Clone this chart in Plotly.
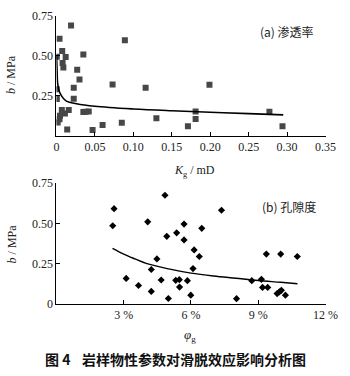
import plotly.graph_objects as go

W, H = 350, 376

# (a) permeability data
perm_k = [0.019, 0.004, 0.089, 0.0075, 0.0005, 0.012, 0.035, 0.008, 0.009, 0.027,
          0.030, 0.073, 0.0225, 0.0005, 0.116, 0.199, 0.0225, 0.0005, 0.007, 0.016,
          0.011, 0.0046, 0.004, 0.0016, 0.035, 0.038, 0.042, 0.014, 0.047, 0.060,
          0.085, 0.130, 0.181, 0.181, 0.171, 0.277, 0.294]
perm_b = [0.689, 0.606, 0.596, 0.529, 0.493, 0.491, 0.507, 0.454, 0.426, 0.412,
          0.351, 0.319, 0.299, 0.290, 0.299, 0.317, 0.230, 0.228, 0.159, 0.159,
          0.138, 0.123, 0.102, 0.082, 0.147, 0.149, 0.151, 0.038, 0.035, 0.066,
          0.080, 0.108, 0.151, 0.104, 0.058, 0.149, 0.058]
perm_fit_k = [0.0002, 0.0008, 0.0016, 0.0034, 0.007, 0.013, 0.026, 0.05, 0.1, 0.15, 0.2, 0.25, 0.295]
perm_fit_b = [0.50, 0.41, 0.325, 0.28, 0.245, 0.215, 0.199, 0.183, 0.166, 0.155, 0.146, 0.137, 0.129]
perm_ticks = [0, 0.05, 0.10, 0.15, 0.20, 0.25, 0.30, 0.35]
perm_ticktext = ["0", "0.05", "0.10", "0.15", "0.20", "0.25", "0.30", "0.35"]

# (b) porosity data (%)
poro_phi = [2.57, 2.51, 4.07, 4.84, 4.92, 4.48, 4.23, 3.11, 3.66, 4.67,
            4.23, 4.99, 7.36, 5.69, 6.48, 5.36, 5.69, 6.14, 6.37, 6.09,
            5.32, 5.48, 5.84, 5.49, 5.99, 8.03, 9.36, 10.0, 10.74, 8.71,
            9.14, 9.19, 9.42, 9.84, 9.94, 10.03, 10.21]
poro_b = [0.592, 0.486, 0.510, 0.675, 0.420, 0.280, 0.214, 0.159, 0.115, 0.149,
          0.078, 0.034, 0.582, 0.496, 0.470, 0.442, 0.398, 0.336, 0.295, 0.220,
          0.147, 0.151, 0.145, 0.105, 0.055, 0.033, 0.310, 0.310, 0.295, 0.145,
          0.153, 0.103, 0.103, 0.065, 0.075, 0.085, 0.055]
poro_fit_phi = [2.5, 3.0, 3.5, 4.0, 5.0, 6.0, 7.0, 8.0, 9.0, 10.0, 10.75]
poro_fit_b = [0.346, 0.31, 0.28, 0.252, 0.218, 0.192, 0.174, 0.160, 0.146, 0.135, 0.126]
poro_ticks = [3, 6, 9, 12]
poro_ticktext = ["3 %", "6 %", "9 %", "12 %"]

b_ticks_top = [0.25, 0.50, 0.75]
b_ticks_bottom = [0, 0.25, 0.50, 0.75]

def py(p):
    return 1 - p / H

fig = go.Figure()
fig.add_trace(go.Scatter(x=perm_k, y=perm_b, mode="markers",
                         marker=dict(symbol="square", size=6, color="#474747"),
                         xaxis="x", yaxis="y", showlegend=False))
fig.add_trace(go.Scatter(x=perm_fit_k, y=perm_fit_b, mode="lines",
                         line=dict(color="black", width=1.6, shape="spline"),
                         xaxis="x", yaxis="y", showlegend=False))
fig.add_trace(go.Scatter(x=poro_phi, y=poro_b, mode="markers",
                         marker=dict(symbol="diamond", size=5.5, color="black"),
                         xaxis="x2", yaxis="y2", showlegend=False))
fig.add_trace(go.Scatter(x=poro_fit_phi, y=poro_fit_b, mode="lines",
                         line=dict(color="black", width=1.4, shape="spline"),
                         xaxis="x2", yaxis="y2", showlegend=False))

tickfont = dict(family="Liberation Serif", size=12, color="#222")
xdom = [56 / W, 338 / W]
axis_common = dict(showgrid=False, zeroline=False, showline=True, linecolor="black",
                   linewidth=1, ticks="inside", ticklen=4, tickcolor="black",
                   tickfont=tickfont)

fig.update_layout(
    width=W, height=H, margin=dict(l=0, r=0, t=0, b=0),
    paper_bgcolor="white", plot_bgcolor="white",
    xaxis=dict(domain=xdom, range=[0, 0.35], tickvals=perm_ticks, ticktext=perm_ticktext,
               anchor="y", **axis_common),
    yaxis=dict(domain=[py(133.5), py(9)], range=[0, 0.75], tickvals=b_ticks_top,
               ticktext=["0.25", "0.50", "0.75"], anchor="x", **axis_common),
    xaxis2=dict(domain=xdom, range=[0, 12], tickvals=poro_ticks, ticktext=poro_ticktext,
                anchor="y2", **axis_common),
    yaxis2=dict(domain=[py(308.5), py(183)], range=[0, 0.75], tickvals=b_ticks_bottom,
                ticktext=["0", "0.25", "0.50", "0.75"], anchor="x2", **axis_common),
)

ann = []
lab = dict(family="Liberation Serif", size=12, color="#222")
ann.append(dict(x=9 / W, y=py(70), text="<i>b</i> / MPa", textangle=-90, font=lab))
ann.append(dict(x=9 / W, y=py(246), text="<i>b</i> / MPa", textangle=-90, font=lab))
ann.append(dict(x=201 / W, y=py(170), text="<i>K</i><sub>g</sub> / mD", font=lab))
ann.append(dict(x=196 / W, y=py(341), text="<i>φ</i><sub>g</sub>", font=dict(family="Liberation Serif", size=13, color="#222")))
cjk = dict(family="Noto Sans CJK SC", size=12, color="#222")
ann.append(dict(x=267 / W, y=py(25), text="(a) 渗透率", xanchor="left", font=cjk))
ann.append(dict(x=269 / W, y=py(207), text="(b) 孔隙度", xanchor="left", font=cjk))
cap = dict(family="Noto Sans CJK SC", size=14, color="#111")
ann.append(dict(x=42 / W, y=py(366), text="<b>图 4</b>", xanchor="left", font=cap))
ann.append(dict(x=81 / W, y=py(366), text="<b>岩样物性参数对滑脱效应影响分析图</b>", xanchor="left", font=cap))

for a in ann:
    a.update(xref="paper", yref="paper", showarrow=False)
    a.setdefault("xanchor", "center")
    a["yanchor"] = "middle"
fig.update_layout(annotations=ann)

fig.write_html("out.html")
